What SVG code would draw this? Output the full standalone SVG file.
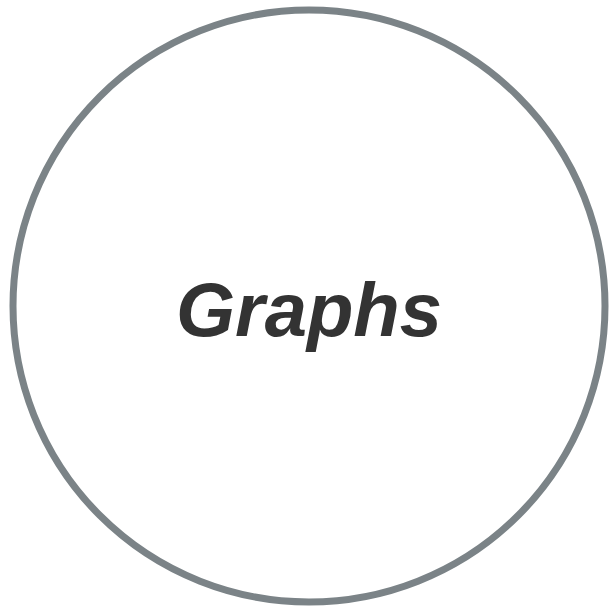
<svg xmlns="http://www.w3.org/2000/svg" width="611" height="611" viewBox="0 0 611 611">
<style>
.node{fill:#ffffff;stroke:#7b8387;stroke-width:7}
.label{font-family:"Liberation Sans",Arial,sans-serif;font-weight:bold;font-style:italic;font-size:76px;fill:#333333;text-anchor:middle}
</style>
<rect width="611" height="611" fill="#ffffff"/>
<g id="graphs">
<circle class="node" cx="309" cy="306" r="296"/>
<text class="label" x="309" y="336">Graphs</text>
</g>
<g id="connectors"/>
</svg>
